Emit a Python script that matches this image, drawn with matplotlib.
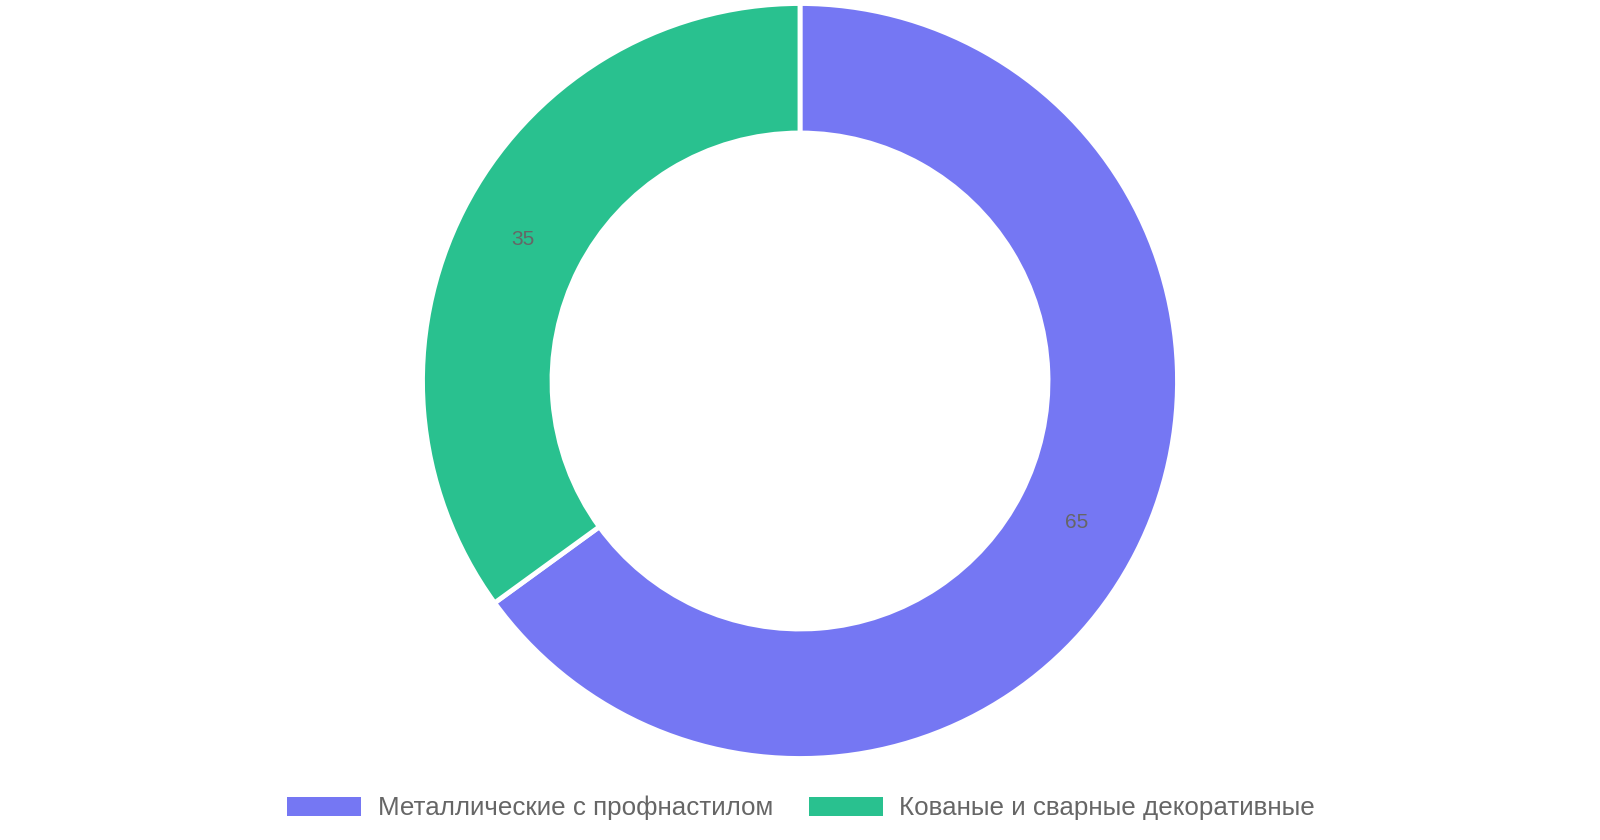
import matplotlib
matplotlib.use("Agg")
import matplotlib.pyplot as plt
from matplotlib.patches import Patch
import numpy as np

categories = ["Металлические с профнастилом", "Кованые и сварные декоративные"]
values = [65, 35]
colors = ["#7577F3", "#29C18F"]

W, H = 1600, 840
fig = plt.figure(figsize=(16, 8.4), dpi=100)
ax = fig.add_axes([0, 0, 1, 1])
cx, cy = 800, H - 381
R = 377.5
width = R - 248
wedges, _ = ax.pie(values, colors=colors, startangle=90, counterclock=False,
                   center=(cx, cy), radius=R,
                   wedgeprops=dict(width=width, edgecolor="white", linewidth=3.5))
ax.set_xlim(0, W)
ax.set_ylim(0, H)
ax.set_aspect("equal")
ax.axis("off")

total = sum(values)
start = 90.0
rm = R - width / 2 - 2
for v in values:
    mid = start - v / total * 360 / 2
    start -= v / total * 360
    x = cx + rm * np.cos(np.radians(mid))
    y = cy + rm * np.sin(np.radians(mid))
    ax.text(x, y, str(v), ha="center", va="center", fontsize=15,
            color="#666666", family="Liberation Sans")

handles = [Patch(facecolor=c, edgecolor="none") for c in colors]
fs = 18.7
leg = fig.legend(handles, categories, loc="center", bbox_to_anchor=(801 / W, 1 - 808 / H),
                 ncol=2, frameon=False, handlelength=2.85, handleheight=0.77,
                 handletextpad=0.65, columnspacing=1.37, borderpad=0,
                 prop=dict(family="Liberation Sans", size=fs))
for t in leg.get_texts():
    t.set_color("#666666")

fig.savefig("out.png", dpi=100, facecolor="white")
